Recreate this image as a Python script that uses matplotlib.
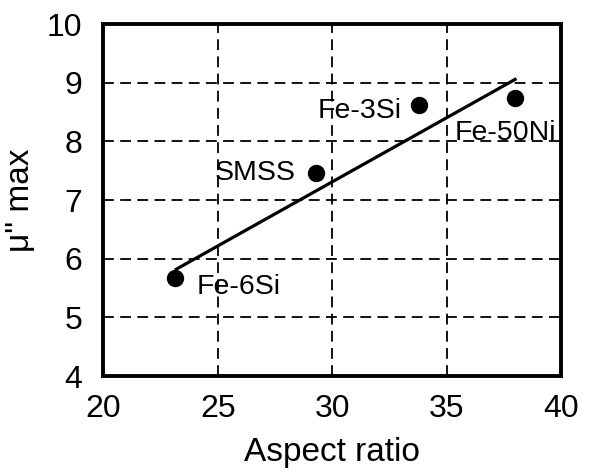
import matplotlib
matplotlib.use("Agg")
import matplotlib.pyplot as plt

plt.rcParams['font.family'] = ['Liberation Sans', 'DejaVu Sans']

materials = ["Fe-6Si", "SMSS", "Fe-3Si", "Fe-50Ni"]
aspect_ratio = [23.13, 29.29, 33.8, 37.98]
mu_max = [5.68, 7.47, 8.62, 8.74]
fit_x = [23.13, 38.05]
fit_y = [5.81, 9.07]
x_ticks = [20, 25, 30, 35, 40]
y_ticks = [4, 5, 6, 7, 8, 9, 10]

fig = plt.figure(figsize=(5.9, 4.72), dpi=100)
ax = fig.add_axes([0.175, 0.203, 0.776, 0.746])

ax.plot(fit_x, fit_y, color='black', lw=2.3, zorder=3, solid_capstyle='butt')
ax.plot(aspect_ratio, mu_max, 'o', color='black', markersize=11.5, zorder=4)

offsets = {
    "Fe-6Si": (16, -7, 'left'),
    "SMSS": (-15, 0, 'right'),
    "Fe-3Si": (-12.5, -4, 'right'),
    "Fe-50Ni": (-7, -25, 'center'),
}
for name, x, y in zip(materials, aspect_ratio, mu_max):
    dx, dy, ha = offsets[name]
    ax.annotate(name, (x, y), xytext=(dx, dy), textcoords='offset points',
                ha=ha, va='center', fontsize=20.5)

ax.set_xlim(20, 40)
ax.set_ylim(4, 10)
ax.set_xticks(x_ticks)
ax.set_yticks(y_ticks)
ax.tick_params(length=0, labelsize=23)
ax.tick_params(axis='x', pad=13)
ax.tick_params(axis='y', pad=15)
ax.grid(True, color='black', linestyle=(0, (6, 3.5)), lw=1.3)
for s in ax.spines.values():
    s.set_linewidth(2.8)

ax.set_xlabel("Aspect ratio", fontsize=24, labelpad=9)
ax.set_ylabel("\u03bc\" max", fontsize=24, labelpad=8)

fig.savefig("out.png", dpi=100)
